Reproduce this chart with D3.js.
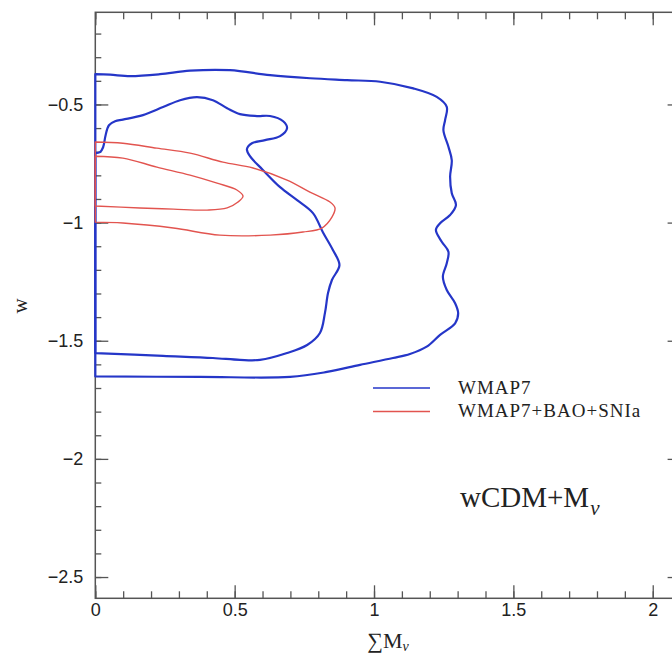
<!DOCTYPE html>
<html>
<head>
<meta charset="utf-8">
<script src="https://cdn.jsdelivr.net/npm/d3@7"></script>
<style>
  body { margin: 0; background: #fff; }
  svg { display: block; }
  .tick text { font-family: "Liberation Sans", Arial, sans-serif; font-size: 18px; fill: #222; }
  .tick line { stroke: #555; stroke-width: 1.3; }
  .serif { font-family: "Liberation Serif", "Times New Roman", serif; fill: #222; }
</style>
</head>
<body>
<div id="chart"></div>
<script>
const width = 672;
const height = 657;
const frame = {left: 95.3, top: 12.3, right: 680.6, bottom: 598.3};

const xMajor = [0, 0.5, 1, 1.5, 2];
const yMajor = [-0.5, -1, -1.5, -2, -2.5];

// contours, [sum M_nu, w]
const wmap7Outer = [
  [0, -0.372], [0.053, -0.374], [0.125, -0.380], [0.232, -0.372], [0.340, -0.357],
  [0.483, -0.355], [0.627, -0.376], [0.771, -0.389], [0.903, -0.397], [1.022, -0.404],
  [1.141, -0.432], [1.225, -0.468], [1.261, -0.510], [1.255, -0.566], [1.249, -0.609],
  [1.267, -0.679], [1.279, -0.736], [1.273, -0.806], [1.279, -0.876], [1.294, -0.926],
  [1.273, -0.968], [1.237, -1.003], [1.222, -1.031], [1.243, -1.081], [1.267, -1.123],
  [1.261, -1.172], [1.247, -1.229], [1.261, -1.285], [1.291, -1.341], [1.302, -1.384],
  [1.291, -1.426], [1.237, -1.475], [1.189, -1.525], [1.129, -1.556], [1.068, -1.573],
  [0.950, -1.602], [0.831, -1.632], [0.699, -1.653], [0.376, -1.653], [0, -1.651]
];
const wmap7Inner = [
  [0, -0.706], [0.017, -0.702], [0.028, -0.681], [0.037, -0.630], [0.049, -0.588],
  [0.071, -0.571], [0.099, -0.564], [0.171, -0.545], [0.243, -0.511], [0.304, -0.482],
  [0.365, -0.469], [0.422, -0.482], [0.473, -0.516], [0.519, -0.541], [0.580, -0.549],
  [0.627, -0.549], [0.674, -0.571], [0.688, -0.600], [0.663, -0.634], [0.609, -0.651],
  [0.562, -0.664], [0.544, -0.689], [0.555, -0.719], [0.602, -0.778], [0.663, -0.850],
  [0.724, -0.905], [0.781, -0.960], [0.817, -1.042], [0.852, -1.115], [0.876, -1.180],
  [0.849, -1.243], [0.835, -1.298], [0.824, -1.382], [0.806, -1.467], [0.760, -1.518],
  [0.688, -1.552], [0.591, -1.581], [0.519, -1.581], [0.422, -1.573], [0.243, -1.564],
  [0, -1.552]
];
const comboOuter = [
  [0, -0.659], [0.099, -0.664], [0.221, -0.685], [0.340, -0.706], [0.458, -0.744],
  [0.566, -0.769], [0.688, -0.820], [0.770, -0.871], [0.842, -0.913], [0.860, -0.938],
  [0.849, -0.977], [0.813, -1.023], [0.745, -1.040], [0.627, -1.053], [0.447, -1.053],
  [0.280, -1.023], [0.099, -1.002], [0, -0.998]
];
const comboInner = [
  [0, -0.719], [0.099, -0.727], [0.221, -0.765], [0.340, -0.799], [0.437, -0.833],
  [0.508, -0.862], [0.530, -0.888], [0.512, -0.913], [0.473, -0.938], [0.401, -0.947],
  [0.280, -0.943], [0.160, -0.938], [0, -0.930]
];

const seriesNames = ['WMAP7', 'WMAP7+BAO+SNIa'];
const seriesColors = ['#2536c8', '#e2544f'];

const svg = d3.select('#chart').append('svg')
  .attr('width', width)
  .attr('height', height);

const x = d3.scaleLinear().domain([0, 2.1]).range([frame.left, frame.right]);
const y = d3.scaleLinear().domain([-0.11, -2.59]).range([frame.top, frame.bottom]);

// frame
svg.append('rect')
  .attr('x', frame.left)
  .attr('y', frame.top)
  .attr('width', frame.right - frame.left)
  .attr('height', frame.bottom - frame.top)
  .attr('fill', 'none')
  .attr('stroke', '#555')
  .attr('stroke-width', 1.5);

function tickAxis(axis, tx, ty, size, values, labels) {
  let g = svg.append('g')
    .attr('transform', `translate(${tx},${ty})`)
    .call(axis.tickValues(values)
      .tickSize(-size)
      .tickPadding(12)
      .tickFormat(labels ? (d) => d3.format('')(d).replace('-', '\u2212') : ''));
  g.select('.domain').remove();
  return g;
}

const xMinor = x.ticks(21);
const yMinor = y.ticks(25);

// bottom + top
tickAxis(d3.axisBottom(x), 0, frame.bottom, 7, xMinor, false);
tickAxis(d3.axisBottom(x), 0, frame.bottom, 13, xMajor, true).selectAll('text').attr('dy', '0.72em').attr('y', 5);
tickAxis(d3.axisTop(x), 0, frame.top, 7, xMinor, false);
tickAxis(d3.axisTop(x), 0, frame.top, 13, xMajor, false);
// left + right
tickAxis(d3.axisLeft(y), frame.left, 0, 6, yMinor, false);
tickAxis(d3.axisLeft(y), frame.left, 0, 13, yMajor, true);
tickAxis(d3.axisRight(y), frame.right, 0, 6, yMinor, false);
tickAxis(d3.axisRight(y), frame.right, 0, 13, yMajor, false);

// contours
const line = d3.line()
  .x((d) => x(d[0]))
  .y((d) => y(d[1]))
  .curve(d3.curveCatmullRom.alpha(0.5));

function drawContour(points, color, width) {
  svg.append('path')
    .attr('d', line(points) + 'Z')
    .attr('fill', 'none')
    .attr('stroke', color)
    .attr('stroke-width', width)
    .attr('stroke-linejoin', 'round');
}

drawContour(wmap7Outer, seriesColors[0], 2.2);
drawContour(wmap7Inner, seriesColors[0], 2.2);
drawContour(comboOuter, seriesColors[1], 1.4);
drawContour(comboInner, seriesColors[1], 1.4);

// legend
const legend = svg.append('g');
seriesNames.forEach(function(name, i) {
  let ly = 388 + i * 23.5;
  legend.append('line')
    .attr('x1', 373).attr('x2', 430)
    .attr('y1', ly).attr('y2', ly)
    .attr('stroke', seriesColors[i])
    .attr('stroke-width', 1.5);
  legend.append('text')
    .attr('class', 'serif')
    .attr('x', 458)
    .attr('y', ly + 5.5)
    .attr('font-size', 19)
    .attr('letter-spacing', 1)
    .text(name);
});

// model label
const model = svg.append('text')
  .attr('class', 'serif')
  .attr('x', 460)
  .attr('y', 507)
  .attr('font-size', 29);
model.append('tspan').text('wCDM+M');
model.append('tspan')
  .attr('font-size', 21)
  .attr('font-style', 'italic')
  .attr('dy', 8)
  .attr('dx', 1)
  .text('\u03bd');

// axis labels
const xLabel = svg.append('text')
  .attr('class', 'serif')
  .attr('x', 388)
  .attr('y', 648)
  .attr('text-anchor', 'middle')
  .attr('font-size', 22);
xLabel.append('tspan').text('\u2211M');
xLabel.append('tspan')
  .attr('font-size', 14)
  .attr('font-style', 'italic')
  .attr('dy', 3)
  .text('\u03bd');

svg.append('text')
  .attr('class', 'serif')
  .attr('transform', 'translate(27,306) rotate(-90)')
  .attr('text-anchor', 'middle')
  .attr('font-size', 21)
  .text('w');
</script>
</body>
</html>
